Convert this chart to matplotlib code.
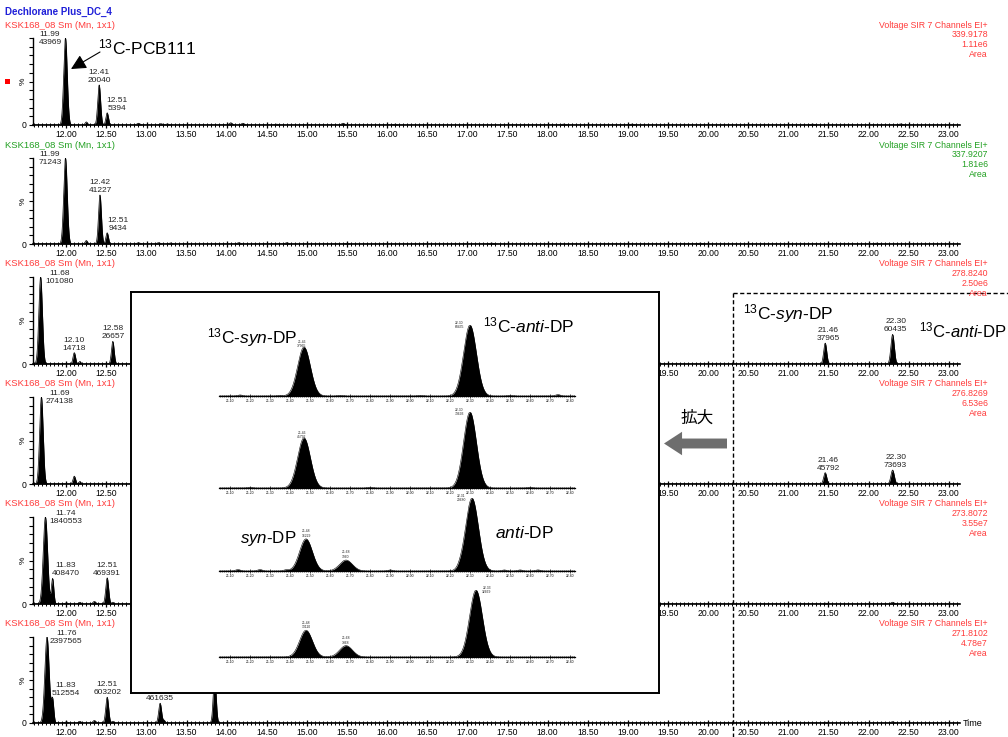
import numpy as np
import matplotlib
matplotlib.use('Agg')
import matplotlib.pyplot as plt
from matplotlib.patches import FancyArrowPatch, Rectangle
from matplotlib.lines import Line2D
from matplotlib.ticker import MultipleLocator, FixedLocator

plt.rcParams['font.family'] = ['Liberation Sans', 'DejaVu Sans']
plt.rcParams['mathtext.fontset'] = 'custom'
plt.rcParams['mathtext.rm'] = 'Liberation Sans'
plt.rcParams['mathtext.it'] = 'Liberation Sans:italic'

W, H = 1008, 737
RED = '#ff3b3b'
GREEN = '#22a022'
BLUE = '#1f1fd8'

# ---- data ----
title = 'Dechlorane Plus_DC_4'
trace_name = 'KSK168_08 Sm (Mn, 1x1)'
channel = 'Voltage SIR 7 Channels EI+'
masses = ['339.9178', '337.9207', '278.8240', '276.8269', '273.8072', '271.8102']
intensities = ['1.11e6', '1.81e6', '2.50e6', '6.53e6', '3.55e7', '4.78e7']
header_colors = [RED, GREEN, RED, RED, RED, RED]

# peaks of each trace: retention time (min), height (%), width (sigma, min)
p1_rt = [11.99, 12.25, 12.41, 12.51, 12.90, 13.18, 13.26, 14.05, 14.20, 14.62, 15.45, 16.10, 18.20, 19.05, 21.30, 22.40]
p1_ht = [100, 3.5, 46, 14, 2, 1.5, 1.2, 2.5, 2, 1, 2, 1, 1, 1, 1, 1.2]
p1_sd = [0.022, 0.015, 0.018, 0.016, 0.02, 0.02, 0.02, 0.02, 0.02, 0.02, 0.02, 0.02, 0.03, 0.03, 0.03, 0.03]
p1_lab_rt = [11.99, 12.41, 12.51]
p1_lab_area = [43969, 20040, 5394]

p2_rt = [11.99, 12.25, 12.42, 12.51, 12.90, 13.15, 13.30, 14.15, 14.75, 15.50, 17.30, 19.90, 22.10]
p2_ht = [100, 4, 57, 13, 1.5, 1.5, 1.2, 1.5, 1.5, 1, 1, 1, 1]
p2_sd = [0.022, 0.015, 0.018, 0.016, 0.02, 0.02, 0.02, 0.02, 0.02, 0.02, 0.03, 0.03, 0.03]
p2_lab_rt = [11.99, 12.42, 12.51]
p2_lab_area = [71243, 41227, 9434]

p3_rt = [11.68, 12.10, 12.17, 12.58, 21.46, 22.30]
p3_ht = [100, 13, 3, 26, 24, 34]
p3_sd = [0.022, 0.016, 0.012, 0.017, 0.019, 0.021]
p3_lab_rt = [11.68, 12.10, 12.58, 21.46, 22.30]
p3_lab_area = [101080, 14718, 26657, 37965, 60435]

p4_rt = [11.69, 12.10, 12.17, 21.46, 22.30]
p4_ht = [100, 9, 3, 13, 16]
p4_sd = [0.022, 0.016, 0.012, 0.019, 0.021]
p4_lab_rt = [11.69, 21.46, 22.30]
p4_lab_area = [274138, 45792, 73693]

p5_rt = [11.74, 11.83, 12.00, 12.17, 12.35, 12.51, 12.58, 21.46, 22.30]
p5_ht = [100, 29, 1.5, 2, 3, 30, 2, 1, 2]
p5_sd = [0.027, 0.015, 0.015, 0.015, 0.018, 0.018, 0.012, 0.02, 0.02]
p5_lab_rt = [11.74, 11.83, 12.51]
p5_lab_area = [1840553, 408470, 469391]

p6_rt = [11.76, 11.83, 12.00, 12.17, 12.35, 12.51, 12.58, 13.17, 13.22, 13.85, 21.46, 22.30]
p6_ht = [100, 26, 1.5, 2, 3, 30, 2, 23, 3, 55, 1, 1.5]
p6_sd = [0.027, 0.015, 0.015, 0.015, 0.018, 0.018, 0.012, 0.018, 0.012, 0.018, 0.02, 0.02]
p6_lab_rt = [11.76, 11.83, 12.51, 13.17]
p6_lab_area = [2397565, 512554, 603202, 461635]

# enlarged DP window (21.0 - 22.8 min)
m1_rt = [21.15, 21.35, 21.47, 21.65, 22.05, 22.30, 22.50, 22.74]
m1_ht = [1.5, 1, 69, 1, 1, 100, 1, 2]
m1_lab_rt = [21.46, 22.30]
m1_lab_area = [37965, 60435]

m2_rt = [21.20, 21.47, 21.80, 22.30, 22.60]
m2_ht = [1, 66, 1, 100, 1]
m2_lab_rt = [21.46, 22.30]
m2_lab_area = [45792, 73693]

m3_rt = [21.14, 21.25, 21.38, 21.48, 21.68, 21.90, 22.25, 22.31, 22.47, 22.55, 22.64]
m3_ht = [2, 2, 1.5, 44, 15, 1.5, 1.5, 100, 1.5, 1.5, 1.5]
m3_lab_rt = [21.48, 21.68, 22.31]
m3_lab_area = [16229, 3960, 29680]

m4_rt = [21.48, 21.68, 22.33]
m4_ht = [40, 17, 100]
m4_lab_rt = [21.48, 21.68, 22.33]
m4_lab_area = [13110, 3368, 32669]

# ---- layout (pixels of the 1008x737 picture) ----
rt_lo, rt_hi = 11.585, 23.14
base_px = [125, 244, 364, 484, 604, 723]
top_px = [38, 158, 277, 397, 517, 637]
lab_dx = [[-4, 0, 10], [-4, 0, 11], [5, 0, 0, 3, 3], [4, 3, 3], [4, 13, 0], [3, 13, 0, 0]]
inset_px = (131, 292, 659, 693)

mini_base = [396, 488, 571, 657]
mini_top = [325, 412, 498, 590]
mini_dx = [[0, -6], [0, -6], [0, 0, -6], [0, 0, 6]]


def box(x0, y0, x1, y1):
    return [x0 / W, 1 - y1 / H, (x1 - x0) / W, (y1 - y0) / H]


def fxy(x, y):
    return x / W, 1 - y / H


def trace(x, rts, hts, sds):
    y = np.zeros_like(x)
    for r, h, s in zip(rts, hts, sds):
        y += h * np.exp(-0.5 * ((x - r) / s) ** 2)
    return y


def label_peaks(ax, x, y, lab_rt, lab_area, dxs, fs, full_ht):
    for r, a, dx in zip(lab_rt, lab_area, dxs):
        h = np.interp(r, x, y)
        txt = '%.2f\n%d' % (r, a)
        if h >= full_ht:
            ax.annotate(txt, xy=(r, h), xytext=(dx, 0), textcoords='offset pixels',
                        ha='left' if dx > 0 else 'right', va='center', ma='center',
                        fontsize=fs, annotation_clip=False, color='#222222')
        else:
            ax.annotate(txt, xy=(r, h), xytext=(dx, 1), textcoords='offset pixels',
                        ha='center', va='bottom', ma='center',
                        fontsize=fs, annotation_clip=False, color='#222222')


fig = plt.figure(figsize=(W / 100, H / 100), dpi=100)

fig.text(*fxy(5, 12), title, color=BLUE, weight='bold', fontsize=7, va='center')

panels = [(p1_rt, p1_ht, p1_sd, p1_lab_rt, p1_lab_area),
          (p2_rt, p2_ht, p2_sd, p2_lab_rt, p2_lab_area),
          (p3_rt, p3_ht, p3_sd, p3_lab_rt, p3_lab_area),
          (p4_rt, p4_ht, p4_sd, p4_lab_rt, p4_lab_area),
          (p5_rt, p5_ht, p5_sd, p5_lab_rt, p5_lab_area),
          (p6_rt, p6_ht, p6_sd, p6_lab_rt, p6_lab_area)]

px_per_min = (960 - 33) / (rt_hi - rt_lo)
x = np.linspace(rt_lo, rt_hi, 8000)
for i, (rts, hts, sds, lrt, lar) in enumerate(panels):
    yb, yt = base_px[i], top_px[i]
    ax = fig.add_axes(box(33, yt, 960, yb))
    ax.patch.set_alpha(0)
    y = trace(x, rts, hts, sds)
    ax.fill_between(x, 0, y, color='black', lw=0)
    ax.plot(x, y, color='black', lw=0.5)
    ax.set_xlim(rt_lo, rt_hi)
    ax.set_ylim(0, 100)
    for s in ['top', 'right']:
        ax.spines[s].set_visible(False)
    ax.spines['bottom'].set_linewidth(1.2)
    ax.spines['left'].set_linewidth(1.0)
    ax.xaxis.set_major_locator(MultipleLocator(0.5))
    ax.xaxis.set_minor_locator(MultipleLocator(0.05))
    ax.xaxis.set_major_formatter('{x:.2f}')
    ax.tick_params(axis='x', which='major', direction='inout', length=5, width=0.9,
                   labelsize=6.2, pad=1)
    ax.tick_params(axis='x', which='minor', direction='inout', length=3, width=0.7)
    ax.yaxis.set_major_locator(FixedLocator([0]))
    ax.yaxis.set_minor_locator(MultipleLocator(10))
    ax.set_yticklabels(['0'])
    ax.tick_params(axis='y', which='both', direction='out', length=3, width=0.8,
                   labelsize=6.2, pad=1.5)
    # tick labels that sit under the enlarged inset are not shown
    if inset_px[1] < yb + 8 < inset_px[3]:
        fig.canvas.draw()
        for t in ax.get_xticklabels():
            xp = 33 + (t.get_position()[0] - rt_lo) * px_per_min
            if inset_px[0] - 6 < xp < inset_px[2] - 6:
                t.set_visible(False)
    label_peaks(ax, x, y, lrt, lar, lab_dx[i], 6, 99)

    c = header_colors[i]
    fig.text(*fxy(5, yt - 13), trace_name, color=c, fontsize=6.8, va='center')
    for k, line in enumerate([channel, masses[i], intensities[i], 'Area']):
        fig.text(*fxy(988, yt - 13 + k * 9.7), line, color=c, fontsize=6.3,
                 va='center', ha='right')
    fig.text(*fxy(23, (yt + yb) / 2), '%', rotation=90, fontsize=6,
             va='center', ha='center')

fig.add_artist(Rectangle(fxy(5, 84), 5 / W, 5 / H, transform=fig.transFigure,
                         color='red', lw=0))
fig.text(*fxy(963, 723), 'Time', fontsize=6.5, va='center', ha='left')

# 13C-PCB111 note
fig.text(*fxy(98, 47), '$^{13}$C-PCB111', fontsize=12.5, va='center', ha='left')
fig.add_artist(FancyArrowPatch(fxy(100, 52), fxy(71, 69), transform=fig.transFigure,
                               arrowstyle='-|>,head_length=0.7,head_width=0.35',
                               mutation_scale=13, lw=0.8, color='black',
                               shrinkA=0, shrinkB=0))

# dashed frame round the DP window of the full traces
dash = dict(color='black', lw=1, linestyle=(0, (3, 1.8)))
fig.add_artist(Line2D([733 / W, 733 / W], [1 - 293 / H, 0], transform=fig.transFigure, **dash))
fig.add_artist(Line2D([733 / W, 1], [1 - 293 / H, 1 - 293 / H], transform=fig.transFigure, **dash))
fig.text(*fxy(743, 314), '$^{13}$C-$\\mathit{syn}$-DP', fontsize=12.5, va='center', ha='left')
fig.text(*fxy(1007, 330), '$^{13}$C-$\\mathit{anti}$-DP', fontsize=12, va='center', ha='right')

# enlarge arrow
fig.text(*fxy(697, 418), '拡大', fontsize=12, va='center', ha='center',
         family=['Noto Sans CJK JP', 'DejaVu Sans'])
fig.add_artist(FancyArrowPatch(fxy(727, 443.5), fxy(664, 443.5), transform=fig.transFigure,
                               arrowstyle='simple,head_length=1.0,head_width=1.3,tail_width=0.55',
                               mutation_scale=13, color='#6e6e6e', lw=0,
                               shrinkA=0, shrinkB=0))

# inset with the enlarged traces
frame = fig.add_axes(box(*inset_px), zorder=5)
frame.set_xticks([])
frame.set_yticks([])
for s in frame.spines.values():
    s.set_linewidth(1.4)

minis = [(m1_rt, m1_ht, m1_lab_rt, m1_lab_area),
         (m2_rt, m2_ht, m2_lab_rt, m2_lab_area),
         (m3_rt, m3_ht, m3_lab_rt, m3_lab_area),
         (m4_rt, m4_ht, m4_lab_rt, m4_lab_area)]
xm = np.linspace(21.045, 22.825, 4000)
for j, (rts, hts, lrt, lar) in enumerate(minis):
    axm = fig.add_axes(box(219, mini_top[j], 575, mini_base[j]), zorder=6)
    axm.patch.set_alpha(0)
    sds = [0.032 if h > 10 else 0.012 for h in hts]
    ym = trace(xm, rts, hts, sds)
    axm.fill_between(xm, 0, ym, color='black', lw=0)
    axm.plot(xm, ym, color='black', lw=0.4)
    axm.set_xlim(21.045, 22.825)
    axm.set_ylim(0, 100)
    for s in ['top', 'right', 'left']:
        axm.spines[s].set_visible(False)
    axm.spines['bottom'].set_linewidth(0.9)
    axm.set_yticks([])
    axm.xaxis.set_major_locator(FixedLocator(np.arange(21.1, 22.85, 0.1)))
    axm.xaxis.set_minor_locator(MultipleLocator(0.01))
    axm.xaxis.set_major_formatter('{x:.2f}')
    axm.tick_params(axis='x', which='major', direction='inout', length=2.5, width=0.5,
                    labelsize=2.4, pad=1)
    axm.tick_params(axis='x', which='minor', direction='inout', length=1.5, width=0.4)
    label_peaks(axm, xm, ym, lrt, lar, mini_dx[j], 2.4, 99)

fig.text(*fxy(207, 338), '$^{13}$C-$\\mathit{syn}$-DP', fontsize=12.5, va='center',
         ha='left', zorder=10)
fig.text(*fxy(483, 325), '$^{13}$C-$\\mathit{anti}$-DP', fontsize=12.5, va='center',
         ha='left', zorder=10)
fig.text(*fxy(240, 538), '$\\mathit{syn}$-DP', fontsize=12.2, va='center', ha='left', zorder=10)
fig.text(*fxy(495, 533), '$\\mathit{anti}$-DP', fontsize=12.5, va='center', ha='left', zorder=10)

fig.savefig('out.png', dpi=100)
